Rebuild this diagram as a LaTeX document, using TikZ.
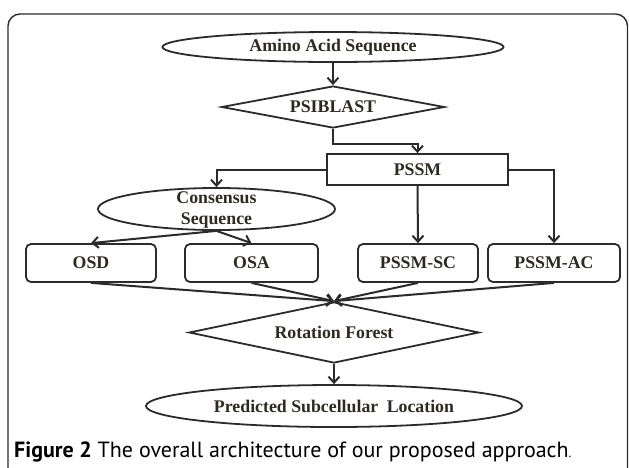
\documentclass[tikz,border=0pt]{standalone}
\usepackage{fontspec}
\setmainfont{Liberation Serif}
\newfontfamily\capfont{PT Sans}
\usetikzlibrary{shapes.geometric,arrows.meta,positioning}
\definecolor{ink}{HTML}{2B2B2B}
\definecolor{txt}{HTML}{2E2A22}
\tikzset{
  base/.style={draw=ink, line width=1.8pt, inner sep=0pt, text=txt,
    font=\fontsize{17.8}{21}\selectfont\bfseries},
  oval/.style={base, ellipse},
  dia/.style={base, diamond},
  sq/.style={base, rectangle},
  rbox/.style={base, rectangle, rounded corners=5pt, minimum height=38pt},
  conn/.style={-{Straight Barb[length=6pt,width=11pt]}, draw=ink, line width=2pt},
}
\begin{document}
\begin{tikzpicture}[x=1pt,y=-1pt]
\useasboundingbox (0,0) rectangle (629,467);
% frame
\draw[ink, line width=1.4pt, rounded corners=12pt] (8,490) -- (8,14) -- (627.5,14) -- (627.5,490);
% nodes
\node[oval, minimum width=341pt, minimum height=30pt] (amino) at (333,47) {Amino Acid Sequence};
\node[dia, aspect=5.3, minimum width=223pt, minimum height=42pt] (psi) at (333,107) {PSIBLAST};
\node[sq, minimum width=181pt, minimum height=31pt] (pssm) at (417.5,169.5) {PSSM};
\node[oval, minimum width=237pt, minimum height=42pt,
  label={[font=\fontsize{17.8}{21}\selectfont\bfseries, text=txt, align=center, yshift=-0.5pt]center:Consensus\\Sequence}] (cons) at (216.5,209) {};
\node[rbox, minimum width=130pt] (osd) at (91,263) {OSD};
\node[rbox, minimum width=133pt] (osa) at (251.5,263) {OSA};
\node[rbox, minimum width=120pt] (sc) at (418,263) {PSSM-SC};
\node[rbox, minimum width=132pt] (ac) at (554,263) {PSSM-AC};
\node[dia, aspect=4.75, minimum width=290pt, minimum height=61pt] (rf) at (334,332.5) {Rotation Forest};
\node[oval, minimum width=376pt, minimum height=42pt] (pred) at (334,406) {Predicted Subcellular\hspace{4pt} Location};
% connectors
\draw[conn] (amino.south) -- (psi.north);
\draw[conn] (psi.south) -- ++(0,15) -| (pssm.north);
\draw[conn] (pssm.west) -| (cons.north);
\draw[conn] (pssm.south) -- (sc.north);
\draw[conn] (pssm.east) -| (ac.north);
\draw[conn] (cons.south) -- (osd.north);
\draw[conn] (cons.south) -- (osa.north);
\draw[conn] (osd.south) -- (rf.north);
\draw[conn] (osa.south) -- (rf.north);
\draw[conn] (sc.south) -- (rf.north);
\draw[conn] (ac.south) -- (rf.north);
\draw[conn] (rf.south) -- (pred.north);
% caption
\node[anchor=west, inner sep=0pt, text=black, font=\capfont\fontsize{22}{25}\selectfont] (cap) at (14,452) {\textbf{Figure 2} The overall architecture of our proposed approach\fontsize{13}{14}\selectfont.};
\end{tikzpicture}
\end{document}
